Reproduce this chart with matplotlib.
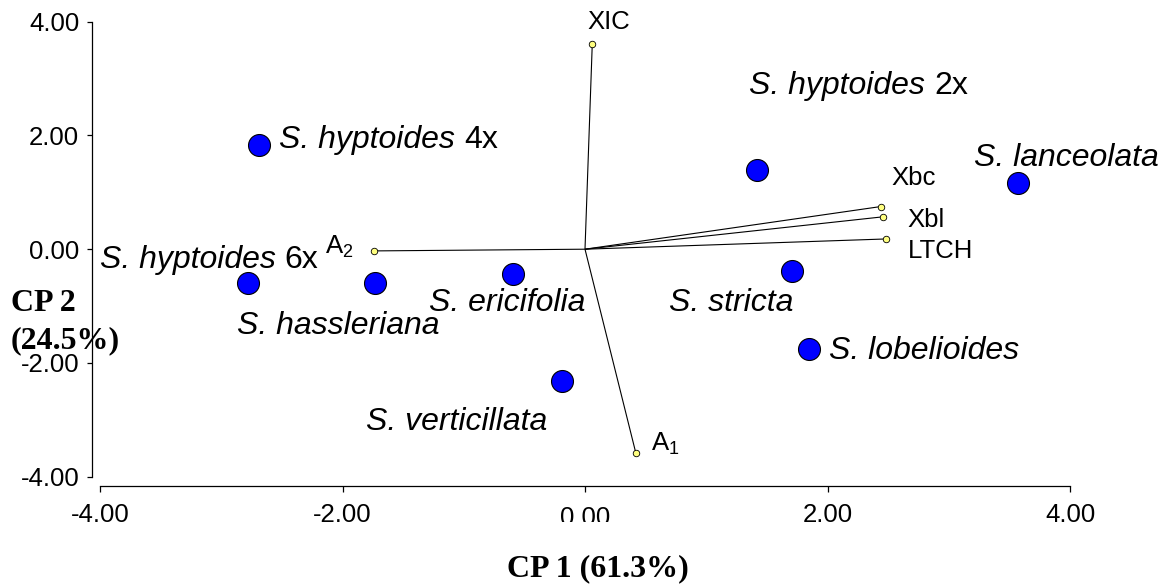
import matplotlib
matplotlib.use("Agg")
import matplotlib.pyplot as plt
from matplotlib.transforms import Bbox, TransformedBbox, blended_transform_factory, offset_copy

plt.rcParams['font.family'] = ['Liberation Sans', 'DejaVu Sans']
plt.rcParams['mathtext.fontset'] = 'custom'
plt.rcParams['mathtext.rm'] = 'Liberation Sans'
plt.rcParams['mathtext.it'] = 'Liberation Sans:italic'
plt.rcParams['mathtext.bf'] = 'Liberation Sans:bold'

# ---- data (PCA scores of species) ----
species = ["S. hyptoides 4x", "S. hyptoides 6x", "S. hassleriana", "S. ericifolia",
           "S. verticillata", "S. hyptoides 2x", "S. lanceolata", "S. stricta",
           "S. lobelioides"]
pc1 = [-2.69, -2.78, -1.73, -0.59, -0.19, 1.42, 3.57, 1.71, 1.85]
pc2 = [1.84, -0.60, -0.60, -0.44, -2.32, 1.39, 1.17, -0.38, -1.76]

# ---- data (variable loadings) ----
variables = ["XIC", "Xbc", "Xbl", "LTCH", "A$_2$", "A$_1$"]
load1 = [0.06, 2.44, 2.46, 2.48, -1.74, 0.42]
load2 = [3.61, 0.75, 0.57, 0.18, -0.03, -3.59]

x_ticks = [-4, -2, 0, 2, 4]
y_ticks = [-4, -2, 0, 2, 4]
x_title = "CP 1 (61.3%)"
y_title = ["CP 2", "(24.5%)"]

# ---- layout: label anchors (left, baseline) in data units ----
species_label_pos = [(-2.52, 1.773), (-4.0, -0.336), (-2.866, -1.49), (-1.29, -1.08),
                     (-1.81, -3.18), (1.355, 2.727), (3.207, 1.468), (0.693, -1.08),
                     (2.01, -1.935)]
var_label_pos = [(0.016, 3.865), (2.525, 1.128), (2.66, 0.396), (2.66, -0.16),
                 (-2.143, -0.084), (0.541, -3.54)]

W, H = 1163, 587
SP_FS = 23
TK_FS = 18.5
fig = plt.figure(figsize=(W / 100, H / 100), dpi=100)
ax = fig.add_axes([100 / W, (H - 476.7) / H, 970 / W, 455 / H])
ax.set_xlim(-4, 4)
ax.set_ylim(-4, 4)
for s in ("top", "right"):
    ax.spines[s].set_visible(False)
ax.spines["left"].set_position(("outward", 8 * 0.72))
ax.spines["bottom"].set_position(("outward", 9.3 * 0.72))
for s in ("left", "bottom"):
    ax.spines[s].set_linewidth(0.9)

ax.set_xticks(x_ticks, [("" if v == 0 else f"{v:.2f}") for v in x_ticks])
ax.set_yticks(y_ticks, [f"{v:.2f}" for v in y_ticks])
ax.tick_params(axis="x", direction="out", length=4.3, width=0.9, labelsize=TK_FS, pad=8.1)
ax.tick_params(axis="y", direction="out", length=3.6, width=0.9, labelsize=TK_FS, pad=5.5)

# loading vectors
for l1, l2 in zip(load1, load2):
    ax.plot([0, l1], [0, l2], color="black", lw=0.8, zorder=2, solid_capstyle="butt")
ax.scatter(load1, load2, s=22, facecolor="#FFFF80", edgecolor="black", linewidths=0.6, zorder=3)

# species points
ax.scatter(pc1, pc2, s=250, facecolor="#0000FF", edgecolor="black", linewidths=0.8, zorder=4)

space_pt = 0.278 * SP_FS
for name, (lx, ly) in zip(species, species_label_pos):
    words = name.split(" ")
    t = ax.text(lx, ly, " ".join(words[:2]), fontsize=SP_FS, style="italic",
                ha="left", va="baseline", clip_on=False)
    if len(words) > 2:
        ax.annotate(" ".join(words[2:]), xy=(1, 0), xycoords=t,
                    xytext=(space_pt, 0), textcoords="offset points",
                    fontsize=SP_FS, ha="left", va="bottom", annotation_clip=False)

for name, (lx, ly) in zip(variables, var_label_pos):
    ax.text(lx, ly, name, fontsize=TK_FS, ha="left", va="baseline", clip_on=False)

# "0.00" tick label, partially hidden as in the original
trans = blended_transform_factory(ax.transData, ax.transAxes)
trans = offset_copy(trans, fig=fig, x=0, y=-29.3, units="dots")
t0 = ax.text(0, 0, f"{x_ticks[2]:.2f}", transform=trans, fontsize=TK_FS, ha="center", va="top")
t0.set_clip_box(TransformedBbox(Bbox([[0, 65.3 / H], [1, 1]]), fig.transFigure))
t0.set_clip_on(True)

# axis titles
fig.text(598 / W, 1 - 576.7 / H, x_title, ha="center", va="baseline",
         fontfamily="Liberation Serif", fontweight="bold", fontsize=23)
fig.text(11 / W, 1 - 310.7 / H, y_title[0], ha="left", va="baseline",
         fontfamily="Liberation Serif", fontweight="bold", fontsize=23)
fig.text(11 / W, 1 - 348.3 / H, y_title[1], ha="left", va="baseline",
         fontfamily="Liberation Serif", fontweight="bold", fontsize=23)

fig.savefig("out.png", dpi=100)
